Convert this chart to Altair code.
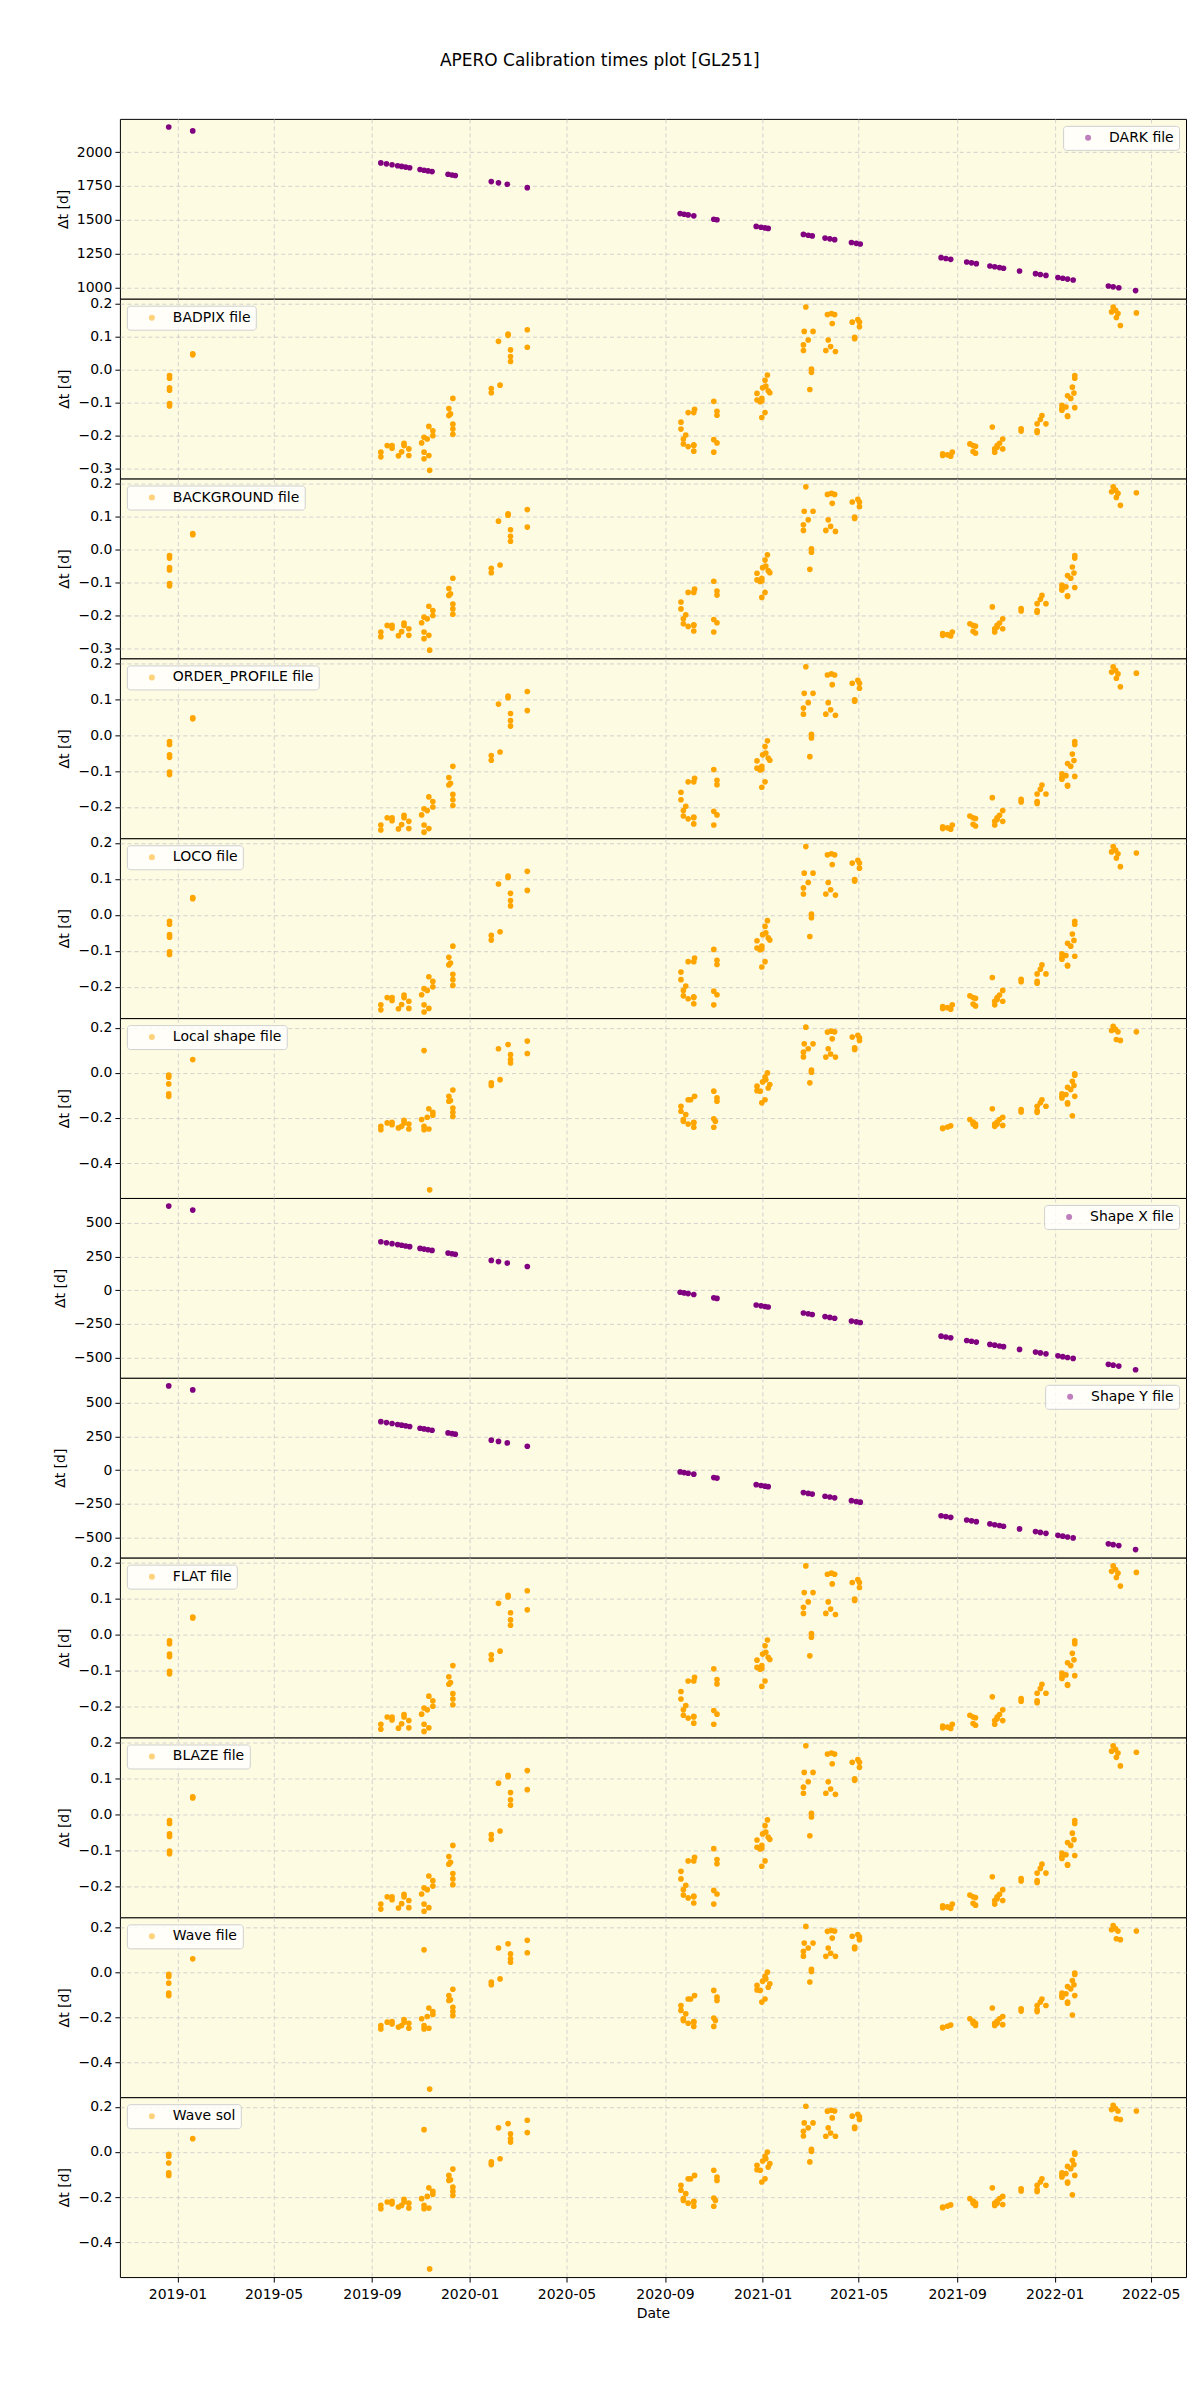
import altair as alt
import pandas as pd

TITLE = "APERO Calibration times plot [GL251]"
ORANGE = "#FFA500"
PURPLE = "#800080"

# ---- family A: BADPIX / BACKGROUND / ORDER_PROFILE / LOCO / FLAT / BLAZE ----
A_DATES = [
    "2018-12-22", "2019-01-20", "2019-09-12", "2019-09-20", "2019-09-26", "2019-10-04",
    "2019-10-08", "2019-10-11", "2019-10-17", "2019-11-02", "2019-11-05", "2019-11-09",
    "2019-11-11", "2019-11-16", "2019-12-06", "2019-12-08", "2019-12-11", "2020-01-28",
    "2020-02-06", "2020-02-08", "2020-02-18", "2020-02-21", "2020-03-13", "2020-09-21",
    "2020-09-24", "2020-09-27", "2020-09-30", "2020-10-07", "2020-10-08", "2020-11-01",
    "2020-11-05", "2020-12-25", "2020-12-29", "2020-12-31", "2021-01-01", "2021-01-04",
    "2021-01-05", "2021-01-07", "2021-01-08", "2021-01-10", "2021-02-21", "2021-02-22",
    "2021-02-24", "2021-02-27", "2021-03-01", "2021-03-03", "2021-03-05", "2021-03-21",
    "2021-03-23", "2021-03-24", "2021-03-27", "2021-03-28", "2021-03-29", "2021-04-01",
    "2021-04-02", "2021-04-23", "2021-04-26", "2021-04-30", "2021-05-02", "2021-08-14",
    "2021-08-20", "2021-08-24", "2021-08-26", "2021-09-17", "2021-09-21", "2021-09-24",
    "2021-10-15", "2021-10-18", "2021-10-21", "2021-10-24", "2021-10-28", "2021-11-20",
    "2021-12-10", "2021-12-14", "2021-12-16", "2021-12-21", "2022-01-10", "2022-01-15",
    "2022-01-17", "2022-01-21", "2022-01-23", "2022-01-25", "2022-01-26", "2022-03-13",
    "2022-03-15", "2022-03-18", "2022-03-19", "2022-03-21", "2022-03-24", "2022-04-13",
]
A_VALUES = [
    [-0.018, -0.026, -0.055, -0.062, -0.103, -0.110], [0.048, 0.045], [-0.250, -0.264],
    [-0.230], [-0.230, -0.238], [-0.261],
    [-0.249], [-0.223, -0.230], [-0.240, -0.260], [-0.222], [-0.205, -0.250, -0.270], [-0.210],
    [-0.260, -0.172], [-0.185, -0.200], [-0.118, -0.139], [-0.134], [-0.087, -0.165, -0.180, -0.196],
    [-0.057, -0.070],
    [0.086], [-0.047], [0.108, 0.104], [0.060, 0.040, 0.025], [0.121, 0.068], [-0.159, -0.180],
    [-0.210, -0.225], [-0.198], [-0.233, -0.130], [-0.230, -0.228, -0.247, -0.130], [-0.120],
    [-0.212, -0.250, -0.096],
    [-0.126, -0.222, -0.138], [-0.092, -0.072], [-0.097], [-0.087, -0.095, -0.145], [-0.055],
    [-0.032, -0.130],
    [-0.050], [-0.016], [-0.064], [-0.070], [0.075, 0.058], [0.116],
    [0.190], [0.090], [-0.060], [0.002, -0.008], [0.116], [0.058],
    [0.167], [0.090], [0.070], [0.170], [0.140], [0.167],
    [0.055], [0.144], [0.098, 0.094], [0.152], [0.144, 0.130], [-0.260, -0.255],
    [-0.258], [-0.262], [-0.250], [-0.225], [-0.230, -0.248], [-0.232, -0.253],
    [-0.174], [-0.240, -0.250], [-0.230, -0.235], [-0.223], [-0.210, -0.240], [-0.179, -0.186],
    [-0.164, -0.185, -0.190], [-0.151], [-0.139], [-0.164], [-0.108, -0.118, -0.123], [-0.113],
    [-0.140, -0.142, -0.079], [-0.087], [-0.053], [-0.071], [-0.115, -0.018, -0.026], [0.175],
    [0.190], [0.180], [0.158], [0.170], [0.134], [0.172],
]
A_OUTLIER_DATES = ["2019-11-12"]
A_OUTLIER_VALUES = [-0.305]

# ---- family B: Local shape / Wave file / Wave sol ----
B_DATES = [
    "2018-12-21", "2019-01-20", "2019-09-12", "2019-09-20", "2019-09-26", "2019-10-04",
    "2019-10-08", "2019-10-11", "2019-10-17", "2019-11-02", "2019-11-05", "2019-11-09",
    "2019-11-11", "2019-11-12", "2019-11-16", "2019-12-06", "2019-12-08", "2019-12-11",
    "2020-01-28", "2020-02-06", "2020-02-08", "2020-02-18", "2020-02-21", "2020-03-13",
    "2020-09-21", "2020-09-24", "2020-09-27", "2020-09-30", "2020-10-03", "2020-10-07",
    "2020-10-08", "2020-11-01", "2020-11-03", "2020-11-05", "2020-12-25", "2020-12-29",
    "2020-12-31", "2021-01-01", "2021-01-04", "2021-01-05", "2021-01-07", "2021-01-08",
    "2021-01-10", "2021-02-21", "2021-02-22", "2021-02-24", "2021-02-27", "2021-03-01",
    "2021-03-03", "2021-03-05", "2021-03-21", "2021-03-23", "2021-03-24", "2021-03-27",
    "2021-03-28", "2021-03-29", "2021-04-01", "2021-04-02", "2021-04-23", "2021-04-26",
    "2021-04-30", "2021-05-02", "2021-08-14", "2021-08-20", "2021-08-24", "2021-09-17",
    "2021-09-21", "2021-09-24", "2021-10-15", "2021-10-18", "2021-10-21", "2021-10-24",
    "2021-10-28", "2021-11-20", "2021-12-10", "2021-12-14", "2021-12-16", "2021-12-21",
    "2022-01-10", "2022-01-15", "2022-01-17", "2022-01-21", "2022-01-23", "2022-01-25",
    "2022-01-26", "2022-03-13", "2022-03-15", "2022-03-18", "2022-03-19", "2022-03-21",
    "2022-03-24", "2022-04-13",
]
B_VALUES = [
    [-0.010, -0.019, -0.049, -0.093, -0.104], [0.059], [-0.237, -0.252], [-0.222],
    [-0.219, -0.230], [-0.244],
    [-0.237], [-0.210, -0.222], [-0.227, -0.249], [-0.207], [0.099, -0.237, -0.252], [-0.197],
    [-0.159, -0.249], [-0.519], [-0.175, -0.188], [-0.104, -0.126], [-0.123],
    [-0.076, -0.156, -0.175, -0.193],
    [-0.044, -0.056], [0.107], [-0.030], [0.126], [0.081, 0.059, 0.044], [0.141, 0.086],
    [-0.148, -0.170], [-0.207, -0.215], [-0.185], [-0.227, -0.119], [-0.119],
    [-0.222, -0.219, -0.241],
    [-0.104], [-0.081, -0.204, -0.241], [-0.215], [-0.111, -0.126], [-0.059, -0.079], [-0.081],
    [-0.133], [-0.040], [-0.019, -0.119], [-0.030], [0.000], [-0.067],
    [-0.052], [0.092, 0.071], [0.129], [0.203], [0.107], [-0.044],
    [0.012, 0.003], [0.129], [0.070], [0.181], [0.107], [0.084],
    [0.185], [0.151], [0.182], [0.070], [0.159], [0.111, 0.104],
    [0.167], [0.156, 0.144], [-0.245, -0.247], [-0.240], [-0.235], [-0.207],
    [-0.218, -0.227], [-0.227, -0.237], [-0.159], [-0.237, -0.227], [-0.218, -0.227], [-0.207],
    [-0.197, -0.233], [-0.163, -0.173], [-0.148, -0.167, -0.175], [-0.133], [-0.119], [-0.148],
    [-0.093, -0.104, -0.111], [-0.096], [-0.064, -0.133, -0.138], [-0.074], [-0.037, -0.190],
    [-0.056],
    [-0.104, -0.004, -0.010], [0.188], [0.207], [0.193], [0.148], [0.182],
    [0.144], [0.182],
]

# ---- purple panels: DARK / Shape X / Shape Y ----
P_DATES = [
    "2018-12-21", "2019-01-20", "2019-09-12", "2019-09-19", "2019-09-26", "2019-10-03",
    "2019-10-08", "2019-10-13", "2019-10-18", "2019-10-31", "2019-11-05", "2019-11-10",
    "2019-11-15", "2019-12-05", "2019-12-10", "2019-12-14", "2020-01-28", "2020-02-06",
    "2020-02-17", "2020-03-13", "2020-09-20", "2020-09-25", "2020-09-30", "2020-10-07",
    "2020-11-01", "2020-11-05", "2020-12-24", "2020-12-30", "2021-01-04", "2021-01-08",
    "2021-02-21", "2021-02-27", "2021-03-04", "2021-03-20", "2021-03-26", "2021-04-01",
    "2021-04-22", "2021-04-28", "2021-05-03", "2021-08-12", "2021-08-18", "2021-08-24",
    "2021-09-13", "2021-09-19", "2021-09-25", "2021-10-12", "2021-10-18", "2021-10-24",
    "2021-10-29", "2021-11-18", "2021-12-08", "2021-12-14", "2021-12-21", "2022-01-05",
    "2022-01-11", "2022-01-17", "2022-01-24", "2022-03-09", "2022-03-15", "2022-03-22",
    "2022-04-12",
]
DARK_DT = [
    2185, 2156, 1920, 1913, 1906, 1899, 1894, 1889, 1884, 1871, 1866, 1861, 1856, 1836, 1831,
    1827, 1782, 1773, 1762, 1737, 1546, 1541, 1536, 1529, 1504, 1500, 1451, 1445, 1440, 1436,
    1392, 1386, 1381, 1365, 1359, 1353, 1332, 1326, 1321, 1220, 1214, 1208, 1188, 1182, 1176,
    1159, 1153, 1147, 1142, 1122, 1102, 1096, 1089, 1074, 1068, 1062, 1055, 1011, 1005, 998, 977,
]
SHAPEX_DT = [
    624, 594, 359, 352, 345, 338, 333, 328, 323, 310, 305, 300, 295, 275, 270, 266, 221, 212,
    201, 176, -15, -20, -25, -32, -57, -61, -110, -116, -121, -125, -169, -175, -180, -196,
    -202, -208, -229, -235, -240, -341, -347, -353, -373, -379, -385, -402, -408, -414, -419,
    -439, -459, -465, -472, -487, -493, -499, -506, -550, -556, -563, -590,
]
SHAPEY_DT = [
    626, 596, 360, 353, 346, 339, 334, 329, 324, 311, 306, 301, 296, 276, 271, 267, 222, 213,
    202, 177, -14, -19, -24, -31, -56, -60, -109, -115, -120, -124, -168, -174, -179, -195,
    -201, -207, -228, -234, -239, -340, -346, -352, -372, -378, -384, -401, -407, -413, -418,
    -438, -458, -464, -471, -486, -492, -498, -505, -549, -555, -562, -592,
]

X_TICK_YM = [(2019, 1), (2019, 5), (2019, 9), (2020, 1), (2020, 5), (2020, 9),
             (2021, 1), (2021, 5), (2021, 9), (2022, 1), (2022, 5)]
X_DOMAIN = [alt.DateTime(year=2018, month=10, date=21, utc=True),
            alt.DateTime(year=2022, month=6, date=14, utc=True)]
X_TICKS = [alt.DateTime(year=y, month=m, date=1, utc=True) for y, m in X_TICK_YM]


def nested_rows(dates, values, label):
    out = []
    for d, vs in zip(dates, values):
        for v in vs:
            out.append({"date": d, "dt": v, "series": label})
    return out


def flat_rows(dates, values, label):
    return [{"date": d, "dt": v, "series": label} for d, v in zip(dates, values)]


def fam_a(label, outlier):
    rows = nested_rows(A_DATES, A_VALUES, label)
    if outlier:
        rows += flat_rows(A_OUTLIER_DATES, A_OUTLIER_VALUES, label)
    return pd.DataFrame(rows)


def fam_b(label):
    return pd.DataFrame(nested_rows(B_DATES, B_VALUES, label))


A_TICKS_6 = [-0.3, -0.2, -0.1, 0.0, 0.1, 0.2]
A_TICKS_5 = [-0.2, -0.1, 0.0, 0.1, 0.2]
B_TICKS = [-0.4, -0.2, 0.0, 0.2]
DARK_TICKS = [1000, 1250, 1500, 1750, 2000]
SHAPE_TICKS = [-500, -250, 0, 250, 500]

PANELS = [
    ("DARK file", pd.DataFrame(flat_rows(P_DATES, DARK_DT, "DARK file")), PURPLE, "top-right",
     [917, 2245], DARK_TICKS, "d"),
    ("BADPIX file", fam_a("BADPIX file", True), ORANGE, "top-left", [-0.33, 0.215], A_TICKS_6, ".1f"),
    ("BACKGROUND file", fam_a("BACKGROUND file", True), ORANGE, "top-left", [-0.33, 0.215], A_TICKS_6, ".1f"),
    ("ORDER_PROFILE file", fam_a("ORDER_PROFILE file", False), ORANGE, "top-left", [-0.287, 0.213], A_TICKS_5, ".1f"),
    ("LOCO file", fam_a("LOCO file", False), ORANGE, "top-left", [-0.287, 0.213], A_TICKS_5, ".1f"),
    ("Local shape file", fam_b("Local shape file"), ORANGE, "top-left", [-0.555, 0.243], B_TICKS, ".1f"),
    ("Shape X file", pd.DataFrame(flat_rows(P_DATES, SHAPEX_DT, "Shape X file")), PURPLE, "top-right",
     [-650, 684], SHAPE_TICKS, "d"),
    ("Shape Y file", pd.DataFrame(flat_rows(P_DATES, SHAPEY_DT, "Shape Y file")), PURPLE, "top-right",
     [-652, 686], SHAPE_TICKS, "d"),
    ("FLAT file", fam_a("FLAT file", False), ORANGE, "top-left", [-0.287, 0.213], A_TICKS_5, ".1f"),
    ("BLAZE file", fam_a("BLAZE file", False), ORANGE, "top-left", [-0.287, 0.213], A_TICKS_5, ".1f"),
    ("Wave file", fam_b("Wave file"), ORANGE, "top-left", [-0.555, 0.243], B_TICKS, ".1f"),
    ("Wave sol", fam_b("Wave sol"), ORANGE, "top-left", [-0.555, 0.243], B_TICKS, ".1f"),
]

charts = []
for i, (label, df, color, orient, ydom, yticks, fmt) in enumerate(PANELS):
    bottom = i == len(PANELS) - 1
    if bottom:
        x_axis = alt.Axis(values=X_TICKS, format="%Y-%m", title="Date", grid=True,
                          labelPadding=5, titlePadding=5)
    else:
        x_axis = alt.Axis(values=X_TICKS, labels=False, ticks=False, title=None, grid=True,
                          minExtent=0, maxExtent=0)
    ch = alt.Chart(df).mark_circle(size=32, opacity=1).encode(
        x=alt.X("date:T", scale=alt.Scale(type="utc", domain=X_DOMAIN), axis=x_axis),
        y=alt.Y("dt:Q", scale=alt.Scale(domain=ydom, nice=False, zero=False),
                axis=alt.Axis(values=yticks, format=fmt, title="Δt [d]")),
        color=alt.Color("series:N", scale=alt.Scale(domain=[label], range=[color]),
                        legend=alt.Legend(orient=orient, title=None, offset=7, padding=5,
                                          fillColor="rgba(255,255,255,0.8)", strokeColor="#d0d0d0",
                                          cornerRadius=3, labelFontSize=14, labelFont="DejaVu Sans",
                                          labelColor="black", symbolSize=36, symbolOpacity=0.5,
                                          symbolType="circle", symbolStrokeWidth=0,
                                          symbolOffset=13, labelOffset=14)),
    ).properties(width=1067, height=180)
    charts.append(ch)

chart = alt.vconcat(*charts, spacing=0, bounds="flush").resolve_scale(
    y="independent", color="independent"
).properties(
    title=alt.TitleParams(TITLE, fontSize=17, font="DejaVu Sans", fontWeight="normal",
                          color="black", anchor="middle", offset=48, dx=-20),
    padding={"left": 45, "top": 43, "right": 5, "bottom": 5},
).configure_view(
    stroke="black", strokeWidth=1, fill="#FDFBE2"
).configure_axis(
    labelFont="DejaVu Sans", labelFontSize=14, labelColor="black",
    titleFont="DejaVu Sans", titleFontSize=14, titleFontWeight="normal", titleColor="black",
    gridColor="#c8c8c8", gridDash=[4, 3], gridWidth=0.8, tickColor="black", tickSize=5,
    labelPadding=3, domain=False, titlePadding=6,
)

chart.save("out.html", embed_options={"renderer": "svg", "actions": False})
